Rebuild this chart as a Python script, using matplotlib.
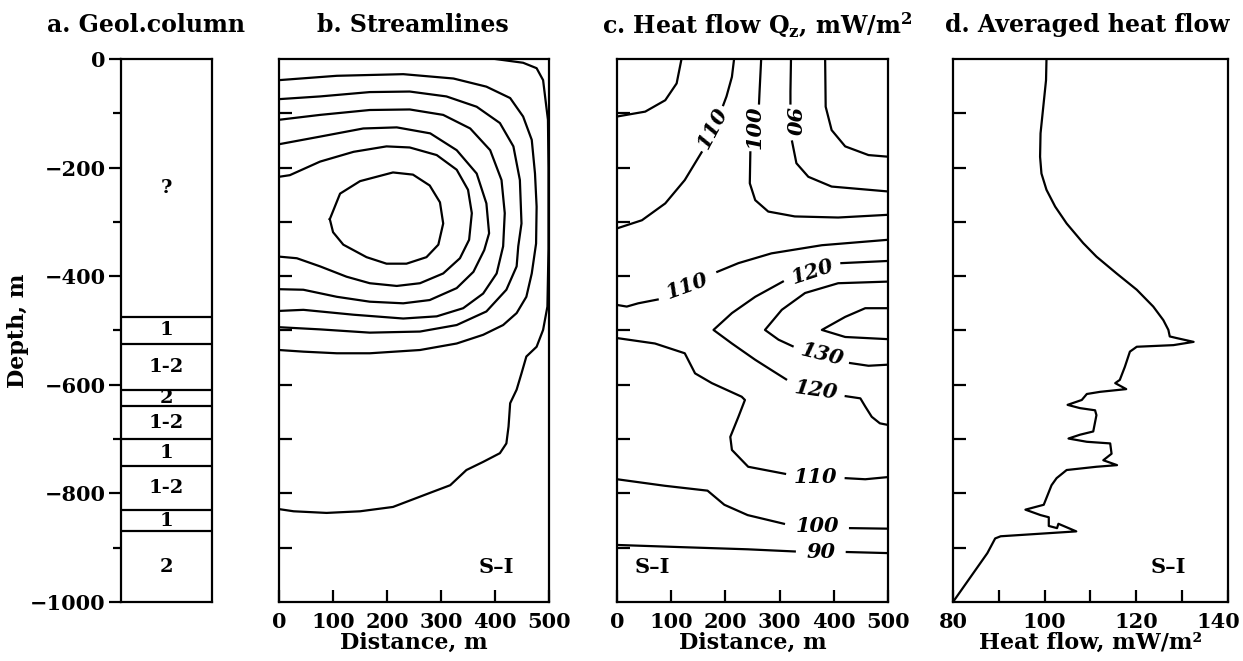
import numpy as np
import matplotlib.pyplot as plt
import matplotlib.transforms as mtransforms

plt.rcParams['font.family'] = 'DejaVu Serif'
plt.rcParams['font.weight'] = 'bold'
plt.rcParams['mathtext.fontset'] = 'dejavuserif'

# a. geological column
layer_tops = [0, -475, -525, -610, -640, -700, -750, -830, -870]
layer_bottoms = [-475, -525, -610, -640, -700, -750, -830, -870, -1000]
layer_labels = ['?', '1', '1-2', '2', '1-2', '1', '1-2', '1', '2']

# b. streamlines, (distance m, depth m)
stream_outer = [(400, 0), (452, -7), (477, -17), (489, -39), (495, -88), (498, -112),
                (499, -200), (499, -350), (497, -456), (489, -499), (477, -530),
                (458, -548), (449, -579), (440, -609), (428, -634), (425, -677),
                (421, -708), (409, -726), (378, -742), (347, -757), (317, -785),
                (285, -797), (211, -825), (150, -833), (88, -836), (27, -833), (0, -829)]
stream_2 = [(0, -39), (107, -31), (230, -28), (323, -36), (384, -51), (428, -72),
            (452, -106), (468, -149), (474, -211), (477, -272), (476, -340),
            (468, -395), (458, -438), (440, -468), (415, -490), (378, -508),
            (329, -524), (261, -536), (168, -542), (107, -542), (45, -539), (0, -536)]
stream_3 = [(0, -74), (76, -69), (168, -61), (242, -60), (310, -69), (366, -88),
            (409, -118), (434, -161), (446, -223), (449, -303), (443, -345),
            (440, -382), (421, -425), (384, -465), (329, -490), (261, -502),
            (168, -504), (76, -498), (0, -494)]
stream_4 = [(0, -112), (76, -103), (168, -94), (242, -93), (304, -103), (354, -128),
            (391, -168), (412, -223), (418, -284), (415, -345), (403, -395),
            (378, -432), (341, -459), (292, -474), (230, -478), (138, -471),
            (45, -462), (0, -464)]
stream_5 = [(0, -157), (76, -143), (156, -128), (218, -126), (280, -137), (329, -168),
            (366, -211), (384, -266), (389, -321), (380, -352), (360, -392),
            (329, -422), (279, -444), (230, -450), (168, -447), (107, -438),
            (45, -425), (0, -424)]
stream_6 = [(0, -217), (20, -214), (76, -189), (138, -171), (199, -161), (242, -163),
            (292, -177), (329, -204), (350, -241), (357, -284), (352, -333),
            (335, -367), (304, -395), (261, -413), (218, -418), (168, -413),
            (125, -401), (76, -382), (33, -367), (0, -364)]
stream_eye = [(94, -295), (113, -248), (150, -225), (211, -209), (248, -213),
              (279, -233), (298, -264), (304, -303), (295, -342), (273, -365),
              (236, -377), (199, -377), (162, -365), (119, -342), (100, -319), (94, -295)]
streamlines = [stream_outer, stream_2, stream_3, stream_4, stream_5, stream_6, stream_eye]

# c. heat flow Qz isolines, split where the labels sit
qz_lines = [
    [(119, 0), (110, -45), (89, -76), (52, -97), (0, -106)],
    [(216, 0), (212, -33), (202, -69), (196, -85)],
    [(156, -172), (125, -223), (89, -266), (46, -297), (0, -312)],
    [(266, 0), (263, -60), (262, -82)],
    [(246, -172), (245, -229), (255, -260), (279, -281), (328, -290), (408, -292), (500, -287)],
    [(321, 0), (320, -60), (320, -82)],
    [(323, -152), (331, -192), (353, -217), (396, -235), (500, -244)],
    [(384, 0), (385, -88), (396, -131), (421, -161), (464, -177), (500, -180)],
    [(500, -333), (378, -343), (285, -358), (224, -376), (185, -392)],
    [(75, -443), (39, -450), (18, -456), (0, -453)],
    [(500, -372), (414, -376)],
    [(306, -410), (255, -438), (212, -468), (178, -499), (212, -524), (255, -554),
     (285, -573), (312, -590)],
    [(422, -621), (449, -625), (458, -640), (470, -659), (485, -671), (500, -674)],
    [(500, -410), (408, -413), (347, -431), (304, -462), (273, -499), (298, -517), (324, -529)],
    [(430, -560), (464, -565), (500, -563)],
    [(500, -459), (458, -459), (421, -475), (378, -499), (421, -512), (500, -516)],
    [(0, -514), (70, -524), (125, -542), (144, -579), (175, -597), (230, -622),
     (236, -628), (224, -659), (209, -696), (212, -720), (242, -751), (310, -764)],
    [(422, -772), (458, -774), (500, -770)],
    [(0, -774), (88, -786), (167, -795), (198, -821), (241, -840), (308, -856)],
    [(430, -864), (500, -865)],
    [(0, -895), (118, -899), (241, -903), (328, -907)],
    [(424, -908), (500, -910)],
]
qz_labels = ['110', '100', '90', '110', '120', '130', '120', '110', '100', '90']
qz_label_x = [176, 254, 322, 130, 360, 378, 368, 366, 370, 376]
qz_label_d = [-128, -126, -116, -418, -392, -545, -610, -769, -861, -908]
qz_label_rot = [62, 90, -90, 20, 18, -14, -8, 0, 0, 0]

# d. averaged heat flow
avg_q = [100.4, 100.3, 99.7, 99.1, 99.0, 99.3, 100.4, 102.3, 104.8, 108.4, 111.3,
         115.7, 120.1, 123.7, 125.9, 127.0, 127.3, 128.8, 132.5, 128.1, 120.1,
         118.6, 117.5, 116.4, 115.4, 117.8, 112.1, 109.2, 108.1, 105.0, 107.7,
         111.0, 111.3, 110.6, 107.7, 105.2, 109.2, 114.3, 114.6, 112.8, 115.8,
         111.3, 104.8, 102.6, 101.5, 99.8, 95.8, 99.1, 100.9, 100.9, 102.7,
         103.0, 106.9, 90.4, 89.2, 87.5, 80.0]
avg_depth = [0, -39, -88, -137, -180, -211, -241, -272, -303, -339, -364,
             -395, -425, -456, -481, -499, -511, -514, -521, -527, -530,
             -539, -567, -591, -597, -608, -613, -617, -628, -637, -643,
             -647, -656, -686, -692, -699, -705, -708, -727, -739, -748,
             -751, -757, -772, -785, -821, -830, -840, -844, -860, -864,
             -856, -870, -879, -883, -910, -1000]

fig = plt.figure(figsize=(12.43, 6.61), dpi=100)
bottom, height = 0.0893, 0.8215
ax_a = fig.add_axes([0.0973, bottom, 0.0732, height])
ax_b = fig.add_axes([0.2245, bottom, 0.2172, height])
ax_c = fig.add_axes([0.4964, bottom, 0.2180, height])
ax_d = fig.add_axes([0.7667, bottom, 0.2212, height])

lw = 1.6
fs = 15

for ax in [ax_a, ax_b, ax_c, ax_d]:
    ax.set_ylim(-1000, 0)
    for s in ax.spines.values():
        s.set_linewidth(1.6)

# panel a
ax_a.set_xlim(0, 1)
for top, bot, lab in zip(layer_tops, layer_bottoms, layer_labels):
    if top < 0:
        ax_a.axhline(top, color='black', lw=lw)
    ax_a.text(0.5, (top + bot) / 2, lab, ha='center', va='center', fontsize=14, fontweight='bold')
ax_a.set_xticks([])
ax_a.set_yticks(np.arange(-1000, 1, 200))
ax_a.set_yticks(np.arange(-900, 0, 200), minor=True)
ax_a.tick_params(axis='y', which='major', direction='out', length=9, width=1.6, labelsize=fs, pad=2)
ax_a.tick_params(axis='y', which='minor', direction='out', length=6, width=1.6)
ax_a.set_ylabel('Depth, m', fontsize=fs + 1, fontweight='bold', labelpad=1)
ax_a.set_yticklabels(['\u22121000', '\u2212800', '\u2212600', '\u2212400', '\u2212200', '0'],
                     fontweight='bold')

# panel b
ax_b.set_xlim(0, 500)
for line in streamlines:
    xs = [p[0] for p in line]
    ds = [p[1] for p in line]
    ax_b.plot(xs, ds, color='black', lw=lw)

# panel c
ax_c.set_xlim(0, 500)
for line in qz_lines:
    xs = [p[0] for p in line]
    ds = [p[1] for p in line]
    ax_c.plot(xs, ds, color='black', lw=lw)
for lab, x, d, r in zip(qz_labels, qz_label_x, qz_label_d, qz_label_rot):
    ax_c.text(x, d, lab, rotation=r, ha='center', va='center', fontsize=15,
              fontweight='bold', fontstyle='italic', rotation_mode='anchor')

# panel d
ax_d.set_xlim(80, 140)
ax_d.plot(avg_q, avg_depth, color='black', lw=lw)

for ax in [ax_b, ax_c, ax_d]:
    ax.set_yticks(np.arange(-900, 0, 100))
    ax.tick_params(axis='y', direction='in', length=9, width=1.6, labelleft=False)
    ax.tick_params(axis='x', direction='in', length=9, width=1.6, labelsize=fs, pad=7)

for ax in [ax_b, ax_c]:
    ax.set_xticks(np.arange(0, 501, 100))
    ax.set_xlabel('Distance, m', fontsize=fs + 1, fontweight='bold', labelpad=0)
ax_d.set_xticks(np.arange(80, 141, 20))
ax_d.set_xticks(np.arange(90, 140, 20), minor=True)
ax_d.tick_params(axis='x', which='minor', direction='in', length=9, width=1.6)
ax_d.set_xlabel('Heat flow, mW/m\u00b2', fontsize=fs + 1, fontweight='bold', labelpad=0)
# keep "140" inside the picture
last = ax_d.get_xticklabels()[-1]
last.set_transform(last.get_transform() + mtransforms.ScaledTranslation(-10 / 100, 0, fig.dpi_scale_trans))

ax_b.text(403, -935, 'S\u2013I', ha='center', va='center', fontsize=15, fontweight='bold')
ax_c.text(66, -935, 'S\u2013I', ha='center', va='center', fontsize=15, fontweight='bold')
ax_d.text(127, -935, 'S\u2013I', ha='center', va='center', fontsize=15, fontweight='bold')

title_y = 1 - 25 / 661
tfs = 17
fig.text(146 / 1243, title_y, 'a. Geol.column', ha='center', va='center', fontsize=tfs, fontweight='bold')
fig.text(413 / 1243, title_y, 'b. Streamlines', ha='center', va='center', fontsize=tfs, fontweight='bold')
fig.text(757 / 1243, title_y, r'c. Heat flow Q$_\mathbf{z}$, mW/m$^\mathbf{2}$', ha='center',
         va='center', fontsize=tfs, fontweight='bold')
fig.text(1087 / 1243, title_y, 'd. Averaged heat flow', ha='center', va='center', fontsize=tfs,
         fontweight='bold')

fig.savefig('out.png', dpi=100)
